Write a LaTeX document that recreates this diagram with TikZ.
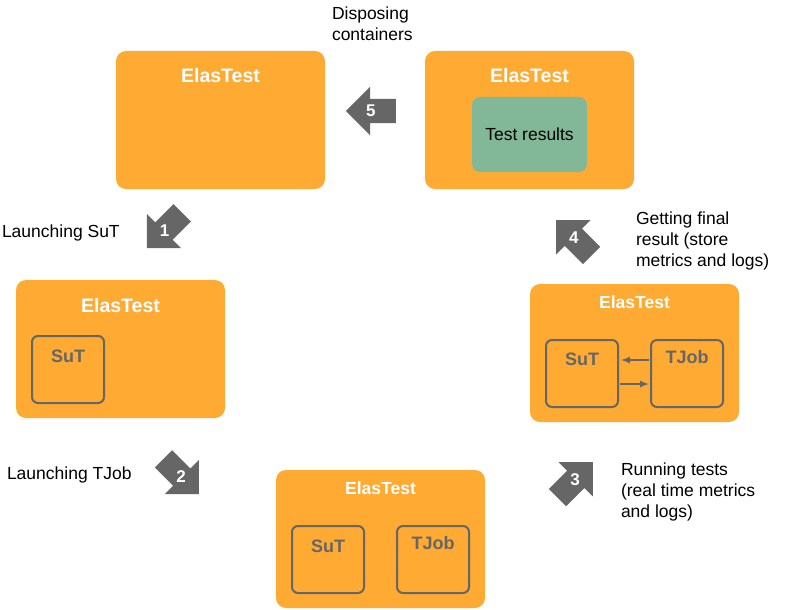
\documentclass[tikz,border=0pt]{standalone}
\usepackage{fontspec}
\setmainfont{Liberation Sans}
\usepackage{tikz}
\usetikzlibrary{arrows}
\usetikzlibrary{shapes.arrows}
\usetikzlibrary{positioning}
\usetikzlibrary{calc}

\definecolor{etorange}{RGB}{255,170,51}
\definecolor{etgray}{RGB}{102,102,102}
\definecolor{etgreen}{RGB}{130,184,152}

\begin{document}
\begin{tikzpicture}[x=1pt, y=-1pt,
  every node/.style = {align=left, inner sep=0pt, outer sep=0pt},
  platform/.style = {fill=etorange, rounded corners=10pt,
    minimum width=209pt, minimum height=138pt},
  ptitle/.style = {text=white, anchor=base, font=\fontsize{19.5}{22}\selectfont\bfseries},
  stitle/.style = {text=white, anchor=base, font=\fontsize{17.5}{21}\selectfont\bfseries},
  component/.style = {draw=etgray, line width=2pt, rounded corners=6pt,
    minimum width=72pt, minimum height=67pt},
  ctitle/.style = {text=etgray, anchor=base, font=\fontsize{18}{21}\selectfont\bfseries},
  stepshape/.style = {single arrow, fill=etgray, minimum height=50pt,
    inner xsep=0pt, inner ysep=12pt, single arrow head extend=12pt},
  stepnum/.style = {text=white, font=\fontsize{17}{20}\selectfont\bfseries},
  caption/.style = {anchor=base west, font=\fontsize{17.5}{21}\selectfont}]
  \useasboundingbox (0,0) rectangle (785,610);

  % ElasTest instances
  \node[platform] (dispose) at (220.5,120) {};
  \node[ptitle] (dispose-t) at ([yshift=-31pt]dispose.north) {ElasTest};

  \node[platform] (results) at (529.5,120) {};
  \node[ptitle] (results-t) at ([yshift=-31pt]results.north) {ElasTest};
  \node[fill=etgreen, rounded corners=8pt, minimum width=115pt,
    minimum height=75pt, font=\fontsize{17.5}{21}\selectfont] (testres) at (529.5,134.5) {Test results};

  \node[platform] (launch) at (120.5,349) {};
  \node[ptitle] (launch-t) at ([yshift=-32pt]launch.north) {ElasTest};
  \node[component] (launch-sut) at (68,369.5) {};
  \node[ctitle] (launch-sut-t) at ([yshift=-26pt]launch-sut.north) {SuT};

  \node[platform] (tjob) at (380.5,539) {};
  \node[stitle] (tjob-t) at ([yshift=-24pt]tjob.north) {ElasTest};
  \node[component] (tjob-sut) at (328,559.5) {};
  \node[ctitle] (tjob-sut-t) at ([yshift=-26pt]tjob-sut.north) {SuT};
  \node[component] (tjob-job) at (433,559.5) {};
  \node[ctitle] (tjob-job-t) at ([yshift=-23pt]tjob-job.north) {TJob};

  \node[platform] (run) at (634.5,353) {};
  \node[stitle] (run-t) at ([yshift=-24pt]run.north) {ElasTest};
  \node[component] (run-sut) at (582,373.5) {};
  \node[ctitle] (run-sut-t) at ([yshift=-25pt]run-sut.north) {SuT};
  \node[component] (run-job) at (687,373.5) {};
  \node[ctitle] (run-job-t) at ([yshift=-23pt]run-job.north) {TJob};
  \draw[etgray, line width=2pt, -latex] ([xshift=-2pt,yshift=13.5pt]run-job.west) -- ([xshift=3pt,yshift=13.5pt]run-sut.east);
  \draw[etgray, line width=2pt, -latex] ([xshift=2pt,yshift=-10.5pt]run-sut.east) -- ([xshift=-2pt,yshift=-10.5pt]run-job.west);

  % steps
  \node[stepshape, rotate=225] (s1) at (168.8,226.2) {};
  \node[stepnum] (n1) at ($(s1.tip)!0.5!(s1.tail)$) {1};
  \node[stepshape, rotate=-45] (s2) at (176.8,472.2) {};
  \node[stepnum] (n2) at ($(s2.tip)!0.5!(s2.tail)$) {2};
  \node[stepshape, rotate=45] (s3) at (570.8,484.2) {};
  \node[stepnum] (n3) at ($(s3.tip)!0.5!(s3.tail)$) {3};
  \node[stepshape, rotate=135] (s4) at (578.2,242.2) {};
  \node[stepnum] (n4) at ($(s4.tip)!0.5!(s4.tail)$) {4};
  \node[stepshape, rotate=180] (s5) at (377,111) {};
  \node[stepnum] (n5) at ($(s5.tip)!0.5!(s5.tail)$) {5};

  % captions
  \node[caption] (c1) at (2,237) {Launching SuT};
  \node[caption] (c2) at (7,479) {Launching TJob};
  \node[caption] (c3) at (621,517) {Running tests\\(real time metrics\\and logs)};
  \node[caption] (c4) at (636,266) {Getting final\\result (store\\metrics and logs)};
  \node[caption] (c5) at (332,41) {Disposing\\containers};
\end{tikzpicture}
\end{document}
